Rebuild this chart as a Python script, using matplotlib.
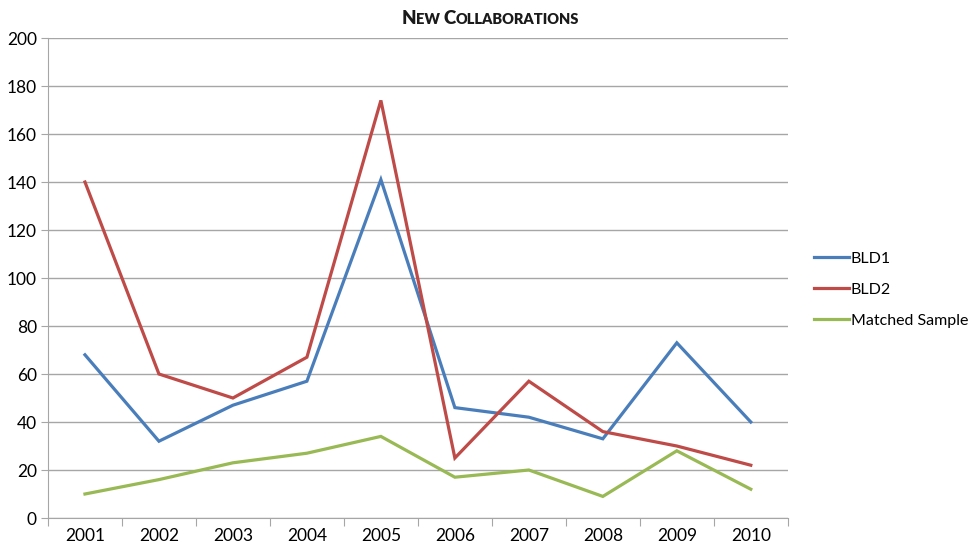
import numpy as np
import matplotlib
matplotlib.use("Agg")
import matplotlib.pyplot as plt
from matplotlib.offsetbox import TextArea, HPacker, AnchoredOffsetbox

plt.rcParams['font.family'] = ['Lato', 'DejaVu Sans']

# data
years = ['2001', '2002', '2003', '2004', '2005', '2006', '2007', '2008', '2009', '2010']
bld1 = [68, 32, 47, 57, 141, 46, 42, 33, 73, 40]
bld2 = [140, 60, 50, 67, 174, 25, 57, 36, 30, 22]
matched = [10, 16, 23, 27, 34, 17, 20, 9, 28, 12]
series_names = ['BLD1', 'BLD2', 'Matched Sample']
colors = ['#4A7EBB', '#BE4B48', '#98B954']

fig = plt.figure(figsize=(9.69, 5.47), dpi=100)
ax = fig.add_axes([0.0495, 0.053, 0.7635, 0.8775])

x = np.arange(len(years))
for vals, name, c in zip([bld1, bld2, matched], series_names, colors):
    ax.plot(x, vals, color=c, linewidth=2.3, label=name, solid_joinstyle='miter')

ax.set_xlim(-0.5, len(years) - 0.5)
ax.set_ylim(0, 200)
ax.set_yticks(np.arange(0, 201, 20))
ax.yaxis.grid(True, color='#A6A6A6', linewidth=1)
ax.set_axisbelow(True)

# category labels centred, tick marks on the boundaries
ax.set_xticks(np.arange(-0.5, len(years)), minor=False)
ax.set_xticklabels([])
ax.set_xticks(x, minor=True)
ax.set_xticklabels(years, minor=True)
ax.tick_params(axis='x', which='major', length=6, color='#A6A6A6', direction='out')
ax.tick_params(axis='x', which='minor', length=0, labelsize=12.5, pad=7)
ax.tick_params(axis='y', length=5, color='#A6A6A6', labelsize=12.5, pad=3)

for side in ['top', 'right']:
    ax.spines[side].set_visible(False)
for side in ['left', 'bottom']:
    ax.spines[side].set_color('#A6A6A6')

# small-caps style title
parts = [('N', 13.5), ('EW ', 10.5), ('C', 13.5), ('OLLABORATIONS', 10.5)]
boxes = [TextArea(t, textprops=dict(fontsize=s, fontweight='heavy', color='#1a1a1a')) for t, s in parts]
title = AnchoredOffsetbox(loc='center', child=HPacker(children=boxes, align='baseline', pad=0, sep=0),
                          bbox_to_anchor=(0.506, 0.966), bbox_transform=fig.transFigure, frameon=False)
fig.add_artist(title)

leg = fig.legend(loc='center left', bbox_to_anchor=(0.840, 0.47), frameon=False,
                 prop={'size': 11.5}, borderpad=0, borderaxespad=0,
                 handlelength=2.2, handletextpad=0.1, labelspacing=1.05)

fig.savefig('out.png', dpi=100)
